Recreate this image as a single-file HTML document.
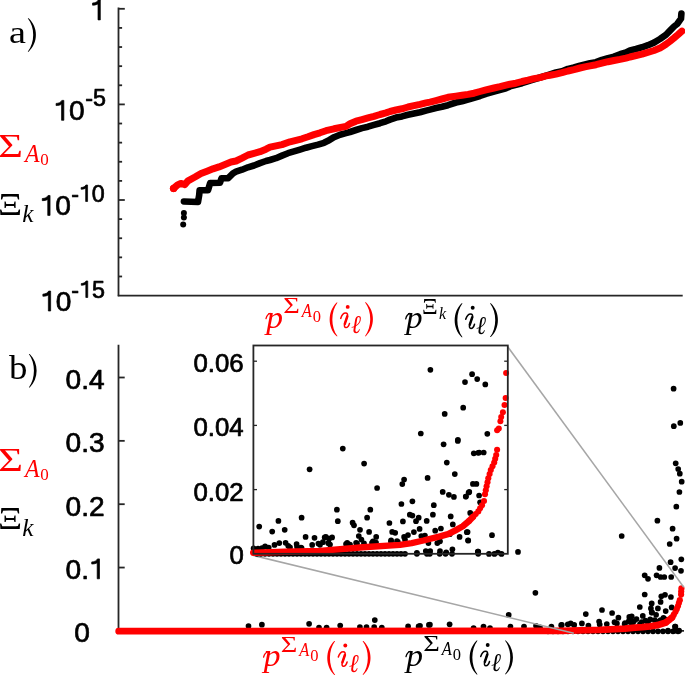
<!DOCTYPE html>
<html><head><meta charset="utf-8"><style>
html,body{margin:0;padding:0;background:#fff;width:685px;height:675px;overflow:hidden}
svg{display:block;will-change:transform}
</style></head><body>
<svg width="685" height="675" viewBox="0 0 685 675">
<rect width="685" height="675" fill="#fff"/>
<line x1="118.5" y1="7.6" x2="118.5" y2="296.3" stroke="#262626" stroke-width="1.8"/>
<line x1="117.8" y1="295.6" x2="682.7" y2="295.6" stroke="#262626" stroke-width="1.8"/>
<line x1="118.5" y1="8.80" x2="124.8" y2="8.80" stroke="#262626" stroke-width="1.8"/>
<line x1="118.5" y1="27.92" x2="122.1" y2="27.92" stroke="#262626" stroke-width="1.8"/>
<line x1="118.5" y1="47.04" x2="122.1" y2="47.04" stroke="#262626" stroke-width="1.8"/>
<line x1="118.5" y1="66.16" x2="122.1" y2="66.16" stroke="#262626" stroke-width="1.8"/>
<line x1="118.5" y1="85.28" x2="122.1" y2="85.28" stroke="#262626" stroke-width="1.8"/>
<line x1="118.5" y1="104.40" x2="124.8" y2="104.40" stroke="#262626" stroke-width="1.8"/>
<line x1="118.5" y1="123.52" x2="122.1" y2="123.52" stroke="#262626" stroke-width="1.8"/>
<line x1="118.5" y1="142.64" x2="122.1" y2="142.64" stroke="#262626" stroke-width="1.8"/>
<line x1="118.5" y1="161.76" x2="122.1" y2="161.76" stroke="#262626" stroke-width="1.8"/>
<line x1="118.5" y1="180.88" x2="122.1" y2="180.88" stroke="#262626" stroke-width="1.8"/>
<line x1="118.5" y1="200.00" x2="124.8" y2="200.00" stroke="#262626" stroke-width="1.8"/>
<line x1="118.5" y1="219.12" x2="122.1" y2="219.12" stroke="#262626" stroke-width="1.8"/>
<line x1="118.5" y1="238.24" x2="122.1" y2="238.24" stroke="#262626" stroke-width="1.8"/>
<line x1="118.5" y1="257.36" x2="122.1" y2="257.36" stroke="#262626" stroke-width="1.8"/>
<line x1="118.5" y1="276.48" x2="122.1" y2="276.48" stroke="#262626" stroke-width="1.8"/>
<line x1="118.5" y1="344.8" x2="118.5" y2="631.6" stroke="#262626" stroke-width="1.8"/>
<line x1="117.8" y1="630.9" x2="684" y2="630.9" stroke="#262626" stroke-width="1.8"/>
<line x1="118.5" y1="567.55" x2="124.7" y2="567.55" stroke="#262626" stroke-width="1.8"/>
<line x1="118.5" y1="504.20" x2="124.7" y2="504.20" stroke="#262626" stroke-width="1.8"/>
<line x1="118.5" y1="440.85" x2="124.7" y2="440.85" stroke="#262626" stroke-width="1.8"/>
<line x1="118.5" y1="377.50" x2="124.7" y2="377.50" stroke="#262626" stroke-width="1.8"/>
<circle cx="548.0" cy="631.3" r="2.85" fill="#000"/><circle cx="553.0" cy="631.3" r="2.85" fill="#000"/><circle cx="558.0" cy="631.3" r="2.85" fill="#000"/><circle cx="563.0" cy="631.3" r="2.85" fill="#000"/><circle cx="568.0" cy="631.3" r="2.85" fill="#000"/><circle cx="573.0" cy="631.3" r="2.85" fill="#000"/><circle cx="578.0" cy="631.3" r="2.85" fill="#000"/><circle cx="583.0" cy="631.3" r="2.85" fill="#000"/><circle cx="588.0" cy="631.3" r="2.85" fill="#000"/><circle cx="593.0" cy="631.3" r="2.85" fill="#000"/><circle cx="598.0" cy="631.3" r="2.85" fill="#000"/><circle cx="603.0" cy="631.3" r="2.85" fill="#000"/><circle cx="608.0" cy="631.3" r="2.85" fill="#000"/><circle cx="613.0" cy="631.3" r="2.85" fill="#000"/><circle cx="618.0" cy="631.3" r="2.85" fill="#000"/><circle cx="623.0" cy="631.3" r="2.85" fill="#000"/><circle cx="628.0" cy="631.3" r="2.85" fill="#000"/><circle cx="633.0" cy="631.3" r="2.85" fill="#000"/><circle cx="638.0" cy="631.3" r="2.85" fill="#000"/><circle cx="643.0" cy="631.3" r="2.85" fill="#000"/><circle cx="648.0" cy="631.3" r="2.85" fill="#000"/><circle cx="653.0" cy="631.3" r="2.85" fill="#000"/><circle cx="658.0" cy="631.3" r="2.85" fill="#000"/><circle cx="663.0" cy="631.3" r="2.85" fill="#000"/><circle cx="668.0" cy="631.3" r="2.85" fill="#000"/><circle cx="673.0" cy="631.3" r="2.85" fill="#000"/><circle cx="678.0" cy="631.3" r="2.85" fill="#000"/>
<circle cx="673.6" cy="388.7" r="2.85" fill="#000"/><circle cx="673.8" cy="426.2" r="2.85" fill="#000"/><circle cx="680.3" cy="422.9" r="2.85" fill="#000"/><circle cx="675.7" cy="463.3" r="2.85" fill="#000"/><circle cx="678.2" cy="469.0" r="2.85" fill="#000"/><circle cx="679.8" cy="473.7" r="2.85" fill="#000"/><circle cx="681.7" cy="481.7" r="2.85" fill="#000"/><circle cx="679.4" cy="492.0" r="2.85" fill="#000"/><circle cx="676.3" cy="506.7" r="2.85" fill="#000"/><circle cx="657.4" cy="520.7" r="2.85" fill="#000"/><circle cx="672.6" cy="528.7" r="2.85" fill="#000"/><circle cx="676.6" cy="538.7" r="2.85" fill="#000"/><circle cx="669.7" cy="544.0" r="2.85" fill="#000"/><circle cx="621.7" cy="536.0" r="2.85" fill="#000"/><circle cx="518.0" cy="551.9" r="2.85" fill="#000"/><circle cx="535.4" cy="592.8" r="2.85" fill="#000"/><circle cx="681.3" cy="559.3" r="2.85" fill="#000"/><circle cx="670.6" cy="562.2" r="2.85" fill="#000"/><circle cx="659.4" cy="567.9" r="2.85" fill="#000"/><circle cx="675.1" cy="568.1" r="2.85" fill="#000"/><circle cx="681.0" cy="570.8" r="2.85" fill="#000"/><circle cx="644.7" cy="575.3" r="2.85" fill="#000"/><circle cx="648.0" cy="578.8" r="2.85" fill="#000"/><circle cx="656.6" cy="575.3" r="2.85" fill="#000"/><circle cx="660.6" cy="577.0" r="2.85" fill="#000"/><circle cx="664.3" cy="577.0" r="2.85" fill="#000"/><circle cx="671.2" cy="577.0" r="2.85" fill="#000"/><circle cx="644.7" cy="594.5" r="2.85" fill="#000"/><circle cx="661.3" cy="596.3" r="2.85" fill="#000"/><circle cx="665.0" cy="594.8" r="2.85" fill="#000"/><circle cx="670.9" cy="597.0" r="2.85" fill="#000"/><circle cx="660.6" cy="601.9" r="2.85" fill="#000"/><circle cx="651.7" cy="603.4" r="2.85" fill="#000"/><circle cx="639.8" cy="607.0" r="2.85" fill="#000"/><circle cx="657.9" cy="608.4" r="2.85" fill="#000"/><circle cx="650.9" cy="608.4" r="2.85" fill="#000"/><circle cx="671.7" cy="607.4" r="2.85" fill="#000"/><circle cx="665.7" cy="611.1" r="2.85" fill="#000"/><circle cx="651.7" cy="612.6" r="2.85" fill="#000"/><circle cx="656.1" cy="614.8" r="2.85" fill="#000"/><circle cx="642.8" cy="615.9" r="2.85" fill="#000"/><circle cx="631.7" cy="616.3" r="2.85" fill="#000"/><circle cx="629.4" cy="620.0" r="2.85" fill="#000"/><circle cx="633.9" cy="621.2" r="2.85" fill="#000"/><circle cx="650.2" cy="619.3" r="2.85" fill="#000"/><circle cx="654.6" cy="620.0" r="2.85" fill="#000"/><circle cx="663.5" cy="617.8" r="2.85" fill="#000"/><circle cx="660.6" cy="620.0" r="2.85" fill="#000"/><circle cx="625.0" cy="623.0" r="2.85" fill="#000"/><circle cx="675.4" cy="626.7" r="2.85" fill="#000"/><circle cx="668.0" cy="630.7" r="2.85" fill="#000"/><circle cx="674.6" cy="630.7" r="2.85" fill="#000"/><circle cx="679.1" cy="630.7" r="2.85" fill="#000"/><circle cx="585.8" cy="614.1" r="2.85" fill="#000"/><circle cx="602.0" cy="610.0" r="2.85" fill="#000"/><circle cx="612.1" cy="613.0" r="2.85" fill="#000"/><circle cx="618.4" cy="617.7" r="2.85" fill="#000"/><circle cx="629.3" cy="616.9" r="2.85" fill="#000"/><circle cx="561.8" cy="624.9" r="2.85" fill="#000"/><circle cx="570.7" cy="623.4" r="2.85" fill="#000"/><circle cx="574.2" cy="624.9" r="2.85" fill="#000"/><circle cx="581.9" cy="623.4" r="2.85" fill="#000"/><circle cx="588.4" cy="625.7" r="2.85" fill="#000"/><circle cx="599.1" cy="621.6" r="2.85" fill="#000"/><circle cx="599.7" cy="624.6" r="2.85" fill="#000"/><circle cx="606.8" cy="624.0" r="2.85" fill="#000"/><circle cx="614.5" cy="622.2" r="2.85" fill="#000"/><circle cx="616.9" cy="623.4" r="2.85" fill="#000"/><circle cx="624.6" cy="624.0" r="2.85" fill="#000"/><circle cx="628.7" cy="621.6" r="2.85" fill="#000"/><circle cx="420.0" cy="625.8" r="2.85" fill="#000"/><circle cx="429.9" cy="624.7" r="2.85" fill="#000"/><circle cx="449.6" cy="624.3" r="2.85" fill="#000"/><circle cx="473.6" cy="628.0" r="2.85" fill="#000"/><circle cx="483.5" cy="626.5" r="2.85" fill="#000"/><circle cx="490.0" cy="628.0" r="2.85" fill="#000"/><circle cx="508.7" cy="614.9" r="2.85" fill="#000"/><circle cx="510.4" cy="626.5" r="2.85" fill="#000"/><circle cx="524.0" cy="626.5" r="2.85" fill="#000"/><circle cx="536.0" cy="625.8" r="2.85" fill="#000"/><circle cx="540.0" cy="627.4" r="2.85" fill="#000"/><circle cx="551.4" cy="626.5" r="2.85" fill="#000"/><circle cx="561.2" cy="625.2" r="2.85" fill="#000"/><circle cx="567.8" cy="624.3" r="2.85" fill="#000"/><circle cx="309.1" cy="623.8" r="2.85" fill="#000"/><circle cx="319.0" cy="627.7" r="2.85" fill="#000"/><circle cx="326.6" cy="627.7" r="2.85" fill="#000"/><circle cx="340.2" cy="625.5" r="2.85" fill="#000"/><circle cx="359.9" cy="627.1" r="2.85" fill="#000"/><circle cx="366.5" cy="627.1" r="2.85" fill="#000"/><circle cx="374.8" cy="620.1" r="2.85" fill="#000"/><circle cx="374.2" cy="627.1" r="2.85" fill="#000"/><circle cx="381.8" cy="627.7" r="2.85" fill="#000"/><circle cx="408.1" cy="626.4" r="2.85" fill="#000"/><circle cx="418.6" cy="626.4" r="2.85" fill="#000"/><circle cx="428.9" cy="624.9" r="2.85" fill="#000"/><circle cx="248.5" cy="626.0" r="2.85" fill="#000"/><circle cx="261.9" cy="624.7" r="2.85" fill="#000"/>
<circle cx="636.5" cy="619.1" r="2.85" fill="#000"/><circle cx="645.4" cy="620.6" r="2.85" fill="#000"/><circle cx="641.7" cy="622.2" r="2.85" fill="#000"/><circle cx="648.0" cy="622.5" r="2.85" fill="#000"/><circle cx="658.0" cy="621.5" r="2.85" fill="#000"/><circle cx="666.0" cy="619.5" r="2.85" fill="#000"/><circle cx="640.0" cy="624.0" r="2.85" fill="#000"/><circle cx="632.0" cy="624.5" r="2.85" fill="#000"/><circle cx="652.0" cy="612.4" r="2.85" fill="#000"/><circle cx="675.0" cy="626.5" r="2.85" fill="#000"/>
<polyline points="118.7,631.2 560.0,630.8 600.0,629.9 625.0,628.6 635.0,627.7 642.4,627.2 649.8,626.3 657.2,625.2 666.0,622.4 672.0,617.6" fill="none" stroke="#ff0000" stroke-width="6.8" stroke-linecap="round" stroke-linejoin="round"/>
<circle cx="666.0" cy="622.4" r="3.1" fill="#ff0000"/><circle cx="669.0" cy="620.0" r="3.1" fill="#ff0000"/><circle cx="672.0" cy="617.6" r="3.1" fill="#ff0000"/><circle cx="673.8" cy="614.7" r="3.1" fill="#ff0000"/><circle cx="675.5" cy="611.8" r="3.1" fill="#ff0000"/><circle cx="676.8" cy="608.9" r="3.1" fill="#ff0000"/><circle cx="678.0" cy="606.0" r="3.1" fill="#ff0000"/><circle cx="678.9" cy="603.1" r="3.1" fill="#ff0000"/><circle cx="679.8" cy="600.2" r="3.1" fill="#ff0000"/><circle cx="681.1" cy="594.6" r="3.1" fill="#ff0000"/><circle cx="681.2" cy="591.5" r="3.1" fill="#ff0000"/><circle cx="681.4" cy="588.4" r="3.1" fill="#ff0000"/>
<line x1="253.4" y1="555.5" x2="573.8" y2="633.2" stroke="#a6a6a6" stroke-width="1.5"/>
<line x1="506.8" y1="345.5" x2="683.8" y2="587.2" stroke="#a6a6a6" stroke-width="1.5"/>
<rect x="253.4" y="345.5" width="254.4" height="208.29999999999995" fill="#fff"/>
<circle cx="257.0" cy="553.8" r="2.85" fill="#000"/><circle cx="261.0" cy="553.8" r="2.85" fill="#000"/><circle cx="265.0" cy="553.8" r="2.85" fill="#000"/><circle cx="269.0" cy="553.8" r="2.85" fill="#000"/><circle cx="273.0" cy="553.8" r="2.85" fill="#000"/><circle cx="277.0" cy="553.8" r="2.85" fill="#000"/><circle cx="281.0" cy="553.8" r="2.85" fill="#000"/><circle cx="285.0" cy="553.8" r="2.85" fill="#000"/><circle cx="289.0" cy="553.8" r="2.85" fill="#000"/><circle cx="293.0" cy="553.8" r="2.85" fill="#000"/><circle cx="297.0" cy="553.8" r="2.85" fill="#000"/><circle cx="301.0" cy="553.8" r="2.85" fill="#000"/><circle cx="305.0" cy="553.8" r="2.85" fill="#000"/><circle cx="309.0" cy="553.8" r="2.85" fill="#000"/><circle cx="313.0" cy="553.8" r="2.85" fill="#000"/><circle cx="317.0" cy="553.8" r="2.85" fill="#000"/><circle cx="321.0" cy="553.8" r="2.85" fill="#000"/><circle cx="325.0" cy="553.8" r="2.85" fill="#000"/><circle cx="329.0" cy="553.8" r="2.85" fill="#000"/><circle cx="333.0" cy="553.8" r="2.85" fill="#000"/><circle cx="337.0" cy="553.8" r="2.85" fill="#000"/><circle cx="341.0" cy="553.8" r="2.85" fill="#000"/><circle cx="345.0" cy="553.8" r="2.85" fill="#000"/><circle cx="349.0" cy="553.8" r="2.85" fill="#000"/><circle cx="353.0" cy="553.8" r="2.85" fill="#000"/><circle cx="357.0" cy="553.8" r="2.85" fill="#000"/><circle cx="361.0" cy="553.8" r="2.85" fill="#000"/><circle cx="365.0" cy="553.8" r="2.85" fill="#000"/><circle cx="369.0" cy="553.8" r="2.85" fill="#000"/><circle cx="373.0" cy="553.8" r="2.85" fill="#000"/><circle cx="377.0" cy="553.8" r="2.85" fill="#000"/><circle cx="381.0" cy="553.8" r="2.85" fill="#000"/><circle cx="385.0" cy="553.8" r="2.85" fill="#000"/><circle cx="389.0" cy="553.8" r="2.85" fill="#000"/><circle cx="393.0" cy="553.8" r="2.85" fill="#000"/><circle cx="397.0" cy="553.8" r="2.85" fill="#000"/><circle cx="401.0" cy="553.8" r="2.85" fill="#000"/><circle cx="405.0" cy="553.8" r="2.85" fill="#000"/><circle cx="416.9" cy="553.8" r="2.85" fill="#000"/><circle cx="426.9" cy="553.8" r="2.85" fill="#000"/><circle cx="429.8" cy="553.8" r="2.85" fill="#000"/><circle cx="439.7" cy="553.8" r="2.85" fill="#000"/><circle cx="445.5" cy="553.8" r="2.85" fill="#000"/><circle cx="452.0" cy="553.8" r="2.85" fill="#000"/><circle cx="478.2" cy="553.8" r="2.85" fill="#000"/>
<circle cx="430.4" cy="369.8" r="2.85" fill="#000"/><circle cx="444.7" cy="413.9" r="2.85" fill="#000"/><circle cx="420.8" cy="433.5" r="2.85" fill="#000"/><circle cx="443.6" cy="444.3" r="2.85" fill="#000"/><circle cx="342.8" cy="448.6" r="2.85" fill="#000"/><circle cx="472.1" cy="374.2" r="2.85" fill="#000"/><circle cx="477.2" cy="379.1" r="2.85" fill="#000"/><circle cx="465.0" cy="382.1" r="2.85" fill="#000"/><circle cx="485.3" cy="384.4" r="2.85" fill="#000"/><circle cx="463.2" cy="407.7" r="2.85" fill="#000"/><circle cx="487.3" cy="433.8" r="2.85" fill="#000"/><circle cx="457.9" cy="439.8" r="2.85" fill="#000"/><circle cx="309.6" cy="469.3" r="2.85" fill="#000"/><circle cx="259.2" cy="526.6" r="2.85" fill="#000"/><circle cx="278.4" cy="520.9" r="2.85" fill="#000"/><circle cx="272.2" cy="531.6" r="2.85" fill="#000"/><circle cx="284.7" cy="529.8" r="2.85" fill="#000"/><circle cx="301.6" cy="517.7" r="2.85" fill="#000"/><circle cx="305.6" cy="536.9" r="2.85" fill="#000"/><circle cx="314.5" cy="537.8" r="2.85" fill="#000"/><circle cx="324.7" cy="537.4" r="2.85" fill="#000"/><circle cx="329.1" cy="538.7" r="2.85" fill="#000"/><circle cx="253.6" cy="548.4" r="2.85" fill="#000"/><circle cx="265.1" cy="546.3" r="2.85" fill="#000"/><circle cx="268.7" cy="547.6" r="2.85" fill="#000"/><circle cx="274.5" cy="544.9" r="2.85" fill="#000"/><circle cx="279.3" cy="543.1" r="2.85" fill="#000"/><circle cx="285.6" cy="542.8" r="2.85" fill="#000"/><circle cx="288.2" cy="545.8" r="2.85" fill="#000"/><circle cx="296.6" cy="544.0" r="2.85" fill="#000"/><circle cx="301.6" cy="548.1" r="2.85" fill="#000"/><circle cx="312.2" cy="544.9" r="2.85" fill="#000"/><circle cx="318.4" cy="543.5" r="2.85" fill="#000"/><circle cx="322.9" cy="542.2" r="2.85" fill="#000"/><circle cx="328.2" cy="543.1" r="2.85" fill="#000"/><circle cx="364.1" cy="463.6" r="2.85" fill="#000"/><circle cx="377.1" cy="488.0" r="2.85" fill="#000"/><circle cx="402.3" cy="484.1" r="2.85" fill="#000"/><circle cx="404.1" cy="479.5" r="2.85" fill="#000"/><circle cx="401.4" cy="504.0" r="2.85" fill="#000"/><circle cx="336.9" cy="509.7" r="2.85" fill="#000"/><circle cx="370.3" cy="509.7" r="2.85" fill="#000"/><circle cx="337.8" cy="521.2" r="2.85" fill="#000"/><circle cx="367.1" cy="517.7" r="2.85" fill="#000"/><circle cx="352.6" cy="522.7" r="2.85" fill="#000"/><circle cx="354.0" cy="525.3" r="2.85" fill="#000"/><circle cx="389.4" cy="523.0" r="2.85" fill="#000"/><circle cx="402.9" cy="521.4" r="2.85" fill="#000"/><circle cx="360.0" cy="529.8" r="2.85" fill="#000"/><circle cx="369.1" cy="531.9" r="2.85" fill="#000"/><circle cx="392.2" cy="531.9" r="2.85" fill="#000"/><circle cx="395.2" cy="532.8" r="2.85" fill="#000"/><circle cx="325.9" cy="536.9" r="2.85" fill="#000"/><circle cx="332.1" cy="537.4" r="2.85" fill="#000"/><circle cx="358.8" cy="536.0" r="2.85" fill="#000"/><circle cx="361.4" cy="539.6" r="2.85" fill="#000"/><circle cx="376.2" cy="536.9" r="2.85" fill="#000"/><circle cx="373.0" cy="541.3" r="2.85" fill="#000"/><circle cx="404.1" cy="536.9" r="2.85" fill="#000"/><circle cx="328.6" cy="543.1" r="2.85" fill="#000"/><circle cx="347.2" cy="542.8" r="2.85" fill="#000"/><circle cx="356.1" cy="542.8" r="2.85" fill="#000"/><circle cx="391.1" cy="540.4" r="2.85" fill="#000"/><circle cx="397.9" cy="542.2" r="2.85" fill="#000"/><circle cx="457.8" cy="440.9" r="2.85" fill="#000"/><circle cx="473.8" cy="453.3" r="2.85" fill="#000"/><circle cx="478.2" cy="452.8" r="2.85" fill="#000"/><circle cx="446.8" cy="462.6" r="2.85" fill="#000"/><circle cx="454.8" cy="474.1" r="2.85" fill="#000"/><circle cx="427.6" cy="477.9" r="2.85" fill="#000"/><circle cx="472.9" cy="483.9" r="2.85" fill="#000"/><circle cx="476.4" cy="483.9" r="2.85" fill="#000"/><circle cx="442.7" cy="491.9" r="2.85" fill="#000"/><circle cx="448.9" cy="494.8" r="2.85" fill="#000"/><circle cx="453.9" cy="496.9" r="2.85" fill="#000"/><circle cx="469.3" cy="491.9" r="2.85" fill="#000"/><circle cx="465.8" cy="496.5" r="2.85" fill="#000"/><circle cx="479.1" cy="495.5" r="2.85" fill="#000"/><circle cx="412.4" cy="501.3" r="2.85" fill="#000"/><circle cx="433.8" cy="505.2" r="2.85" fill="#000"/><circle cx="409.8" cy="514.7" r="2.85" fill="#000"/><circle cx="412.4" cy="515.6" r="2.85" fill="#000"/><circle cx="432.9" cy="514.7" r="2.85" fill="#000"/><circle cx="418.7" cy="517.7" r="2.85" fill="#000"/><circle cx="416.0" cy="521.2" r="2.85" fill="#000"/><circle cx="426.7" cy="520.9" r="2.85" fill="#000"/><circle cx="450.7" cy="516.4" r="2.85" fill="#000"/><circle cx="470.2" cy="512.9" r="2.85" fill="#000"/><circle cx="452.8" cy="524.4" r="2.85" fill="#000"/><circle cx="419.6" cy="528.9" r="2.85" fill="#000"/><circle cx="435.2" cy="530.7" r="2.85" fill="#000"/><circle cx="440.9" cy="528.5" r="2.85" fill="#000"/><circle cx="413.9" cy="532.1" r="2.85" fill="#000"/><circle cx="408.0" cy="535.1" r="2.85" fill="#000"/><circle cx="421.3" cy="536.0" r="2.85" fill="#000"/><circle cx="424.9" cy="535.5" r="2.85" fill="#000"/><circle cx="449.8" cy="534.2" r="2.85" fill="#000"/><circle cx="459.6" cy="536.9" r="2.85" fill="#000"/><circle cx="467.6" cy="532.1" r="2.85" fill="#000"/><circle cx="468.1" cy="540.4" r="2.85" fill="#000"/><circle cx="437.3" cy="543.1" r="2.85" fill="#000"/><circle cx="440.0" cy="541.3" r="2.85" fill="#000"/><circle cx="428.4" cy="543.1" r="2.85" fill="#000"/><circle cx="416.9" cy="552.9" r="2.85" fill="#000"/><circle cx="425.8" cy="551.1" r="2.85" fill="#000"/><circle cx="430.2" cy="551.1" r="2.85" fill="#000"/><circle cx="440.0" cy="551.1" r="2.85" fill="#000"/><circle cx="446.2" cy="552.4" r="2.85" fill="#000"/><circle cx="452.4" cy="549.3" r="2.85" fill="#000"/><circle cx="478.2" cy="551.6" r="2.85" fill="#000"/><circle cx="479.2" cy="452.5" r="2.85" fill="#000"/><circle cx="483.7" cy="452.5" r="2.85" fill="#000"/><circle cx="468.6" cy="492.5" r="2.85" fill="#000"/><circle cx="465.9" cy="496.6" r="2.85" fill="#000"/><circle cx="480.1" cy="502.3" r="2.85" fill="#000"/><circle cx="466.8" cy="532.2" r="2.85" fill="#000"/><circle cx="468.2" cy="540.5" r="2.85" fill="#000"/><circle cx="492.0" cy="535.2" r="2.85" fill="#000"/><circle cx="477.8" cy="551.7" r="2.85" fill="#000"/><circle cx="489.0" cy="553.9" r="2.85" fill="#000"/><circle cx="494.4" cy="553.9" r="2.85" fill="#000"/><circle cx="497.9" cy="552.5" r="2.85" fill="#000"/><circle cx="501.5" cy="553.9" r="2.85" fill="#000"/>
<circle cx="320.0" cy="544.8" r="2.85" fill="#000"/><circle cx="330.0" cy="544.6" r="2.85" fill="#000"/><circle cx="346.0" cy="544.0" r="2.85" fill="#000"/><circle cx="350.0" cy="544.6" r="2.85" fill="#000"/><circle cx="357.0" cy="543.6" r="2.85" fill="#000"/><circle cx="364.0" cy="543.4" r="2.85" fill="#000"/><circle cx="372.0" cy="542.8" r="2.85" fill="#000"/><circle cx="376.0" cy="542.6" r="2.85" fill="#000"/><circle cx="391.0" cy="541.4" r="2.85" fill="#000"/><circle cx="397.0" cy="541.2" r="2.85" fill="#000"/><circle cx="405.0" cy="539.8" r="2.85" fill="#000"/><circle cx="258.0" cy="548.6" r="2.85" fill="#000"/><circle cx="262.0" cy="548.2" r="2.85" fill="#000"/><circle cx="290.0" cy="547.4" r="2.85" fill="#000"/><circle cx="301.0" cy="547.6" r="2.85" fill="#000"/><circle cx="297.0" cy="546.8" r="2.85" fill="#000"/>
<polyline points="253.2,552.7 285.0,551.8 320.0,550.9 363.0,547.3 400.0,544.9 411.7,543.1 423.4,540.5 440.0,536.4 448.0,534.2 455.0,530.6 462.8,526.2 469.0,521.0 473.1,516.8" fill="none" stroke="#ff0000" stroke-width="6.4" stroke-linecap="round" stroke-linejoin="round"/>
<circle cx="469.0" cy="521.0" r="3.05" fill="#ff0000"/><circle cx="473.1" cy="516.8" r="3.05" fill="#ff0000"/><circle cx="475.7" cy="514.1" r="3.05" fill="#ff0000"/><circle cx="478.3" cy="511.4" r="3.05" fill="#ff0000"/><circle cx="480.1" cy="508.3" r="3.05" fill="#ff0000"/><circle cx="482.0" cy="505.2" r="3.05" fill="#ff0000"/><circle cx="484.0" cy="501.0" r="3.05" fill="#ff0000"/><circle cx="485.0" cy="494.3" r="3.05" fill="#ff0000"/><circle cx="485.8" cy="490.3" r="3.05" fill="#ff0000"/><circle cx="486.6" cy="486.3" r="3.05" fill="#ff0000"/><circle cx="487.5" cy="482.2" r="3.05" fill="#ff0000"/><circle cx="488.3" cy="478.2" r="3.05" fill="#ff0000"/><circle cx="489.6" cy="474.1" r="3.05" fill="#ff0000"/><circle cx="490.8" cy="470.0" r="3.05" fill="#ff0000"/><circle cx="492.5" cy="466.2" r="3.05" fill="#ff0000"/><circle cx="494.2" cy="462.5" r="3.05" fill="#ff0000"/><circle cx="495.2" cy="458.8" r="3.05" fill="#ff0000"/><circle cx="496.2" cy="455.0" r="3.05" fill="#ff0000"/><circle cx="497.1" cy="449.8" r="3.05" fill="#ff0000"/>
<circle cx="497.1" cy="430.2" r="3.0" fill="#ff0000"/><circle cx="498.8" cy="428.6" r="3.0" fill="#ff0000"/><circle cx="500.4" cy="421.2" r="3.0" fill="#ff0000"/><circle cx="501.2" cy="417.1" r="3.0" fill="#ff0000"/><circle cx="502.9" cy="412.2" r="3.0" fill="#ff0000"/><circle cx="504.5" cy="404.9" r="3.0" fill="#ff0000"/><circle cx="505.6" cy="397.9" r="3.0" fill="#ff0000"/><circle cx="506.1" cy="373.1" r="3.0" fill="#ff0000"/>
<rect x="253.4" y="345.5" width="254.4" height="208.29999999999995" fill="none" stroke="#262626" stroke-width="1.8"/>
<line x1="253.4" y1="489.60" x2="257.0" y2="489.60" stroke="#262626" stroke-width="1.3"/>
<line x1="507.8" y1="489.60" x2="504.2" y2="489.60" stroke="#262626" stroke-width="1.3"/>
<line x1="253.4" y1="425.40" x2="257.0" y2="425.40" stroke="#262626" stroke-width="1.3"/>
<line x1="507.8" y1="425.40" x2="504.2" y2="425.40" stroke="#262626" stroke-width="1.3"/>
<line x1="253.4" y1="361.20" x2="257.0" y2="361.20" stroke="#262626" stroke-width="1.3"/>
<line x1="507.8" y1="361.20" x2="504.2" y2="361.20" stroke="#262626" stroke-width="1.3"/>
<polyline points="183.9,201.5 198.0,202.0 199.2,195.0 199.6,190.2 208.0,190.3 210.2,183.0 220.0,182.7 221.5,178.3 228.2,178.1 233.0,173.4 236.0,171.7 242.0,169.7 248.0,167.3 254.0,165.5 260.0,163.1 266.0,161.0 270.0,160.0 276.0,158.2 282.0,155.6 288.0,153.2 294.0,151.4 300.0,149.6 306.0,147.7 312.0,146.1 318.0,144.6 324.0,142.8 328.0,140.8 334.0,137.2 340.0,134.7 346.0,133.1 350.0,132.0 356.0,130.0 362.0,128.1 368.0,126.7 374.0,124.9 380.0,123.2 386.0,121.3 390.0,119.6 396.0,117.6 402.0,116.4 408.0,114.8 414.0,113.5 420.0,112.3 426.0,110.6 430.0,109.6 436.0,108.0 442.0,106.8 448.0,105.2 456.0,102.5 462.0,101.2 468.0,99.6 474.0,97.8 480.0,96.0 486.0,93.8 494.0,91.5 506.0,88.2 510.0,86.4 522.0,83.2 530.0,80.5 540.0,77.5 547.0,75.3 556.0,72.5 562.0,71.3 568.0,68.9 574.0,67.5 580.0,65.7 586.0,64.2 590.0,63.2 596.0,62.2 602.0,59.9 608.0,58.1 614.0,56.6 620.0,54.2 626.0,52.5 630.0,50.5 636.0,49.0 642.0,47.3 648.0,45.2 654.0,42.6 660.0,39.0 666.0,34.8 670.0,30.6 674.0,26.5 677.2,24.0 681.0,18.7 681.4,13.5" fill="none" stroke="#000" stroke-width="6.6" stroke-linecap="round" stroke-linejoin="round"/>
<circle cx="183.9" cy="212.9" r="3.0" fill="#000"/><circle cx="183.9" cy="217.6" r="3.0" fill="#000"/><circle cx="183.2" cy="224.5" r="3.0" fill="#000"/>
<polyline points="173.5,188.5 177.6,184.9 180.8,183.4 184.9,184.6 188.0,180.8 195.0,177.0 201.0,173.5 207.0,171.2 213.0,168.8 219.0,166.9 225.0,164.5 231.0,162.0 236.0,161.0 242.0,158.1 248.0,155.0 254.0,153.4 260.0,151.7 266.0,149.2 270.0,147.2 282.0,144.6 290.0,141.8 296.0,140.3 302.0,138.8 308.0,136.8 314.0,134.6 320.0,132.8 326.0,130.7 334.0,128.8 346.0,126.4 350.0,123.8 356.0,121.2 362.0,119.6 368.0,117.9 374.0,116.3 380.0,114.5 386.0,112.9 390.0,111.5 396.0,110.0 402.0,108.8 408.0,107.0 414.0,105.7 420.0,104.4 426.0,102.9 430.0,102.1 436.0,100.6 442.0,99.0 448.0,97.3 456.0,96.1 462.0,95.3 468.0,94.4 474.0,93.2 480.0,91.5 486.0,89.9 494.0,88.0 500.0,86.7 506.0,85.2 510.0,84.2 516.0,83.2 522.0,81.5 528.0,80.2 534.0,78.6 540.0,77.6 546.0,75.9 550.0,75.2 556.0,74.1 562.0,72.7 568.0,71.0 574.0,69.6 580.0,68.0 586.0,66.7 590.0,65.9 596.0,64.7 602.0,63.2 608.0,61.7 614.0,60.5 620.0,59.4 626.0,58.1 630.0,57.0 642.0,54.1 654.0,50.5 660.0,48.1 666.0,44.2 670.0,41.2 674.0,38.0 678.0,34.6 681.9,31.1" fill="none" stroke="#ff0000" stroke-width="7.0" stroke-linecap="round" stroke-linejoin="round"/>
<circle cx="173.6" cy="188.4" r="3.7" fill="#ff0000"/>
<path d="M0.372 0 L0.372 -0.709 L0.300 -0.709 C0.270 -0.640 0.190 -0.604 0.095 -0.600 L0.095 -0.525 C0.170 -0.525 0.245 -0.540 0.290 -0.570 L0.290 0 Z" transform="translate(89.86,19.90) scale(28.1)" fill="#000" stroke="#000" stroke-width="0.0249" stroke-linejoin="round"/>
<path d="M0.372 0 L0.372 -0.709 L0.300 -0.709 C0.270 -0.640 0.190 -0.604 0.095 -0.600 L0.095 -0.525 C0.170 -0.525 0.245 -0.540 0.290 -0.570 L0.290 0 Z" transform="translate(53.40,120.30) scale(28.1)" fill="#000" stroke="#000" stroke-width="0.0249" stroke-linejoin="round"/><text x="69.02" y="120.30" font-family="'Liberation Sans', sans-serif" font-size="28.1" fill="#000" stroke="#000" stroke-width="0.7" stroke-linejoin="round">0</text>
<text x="85.36" y="106.40" font-family="'Liberation Sans', sans-serif" font-size="23.3" fill="#000" stroke="#000" stroke-width="0.7" stroke-linejoin="round">-5</text>
<path d="M0.372 0 L0.372 -0.709 L0.300 -0.709 C0.270 -0.640 0.190 -0.604 0.095 -0.600 L0.095 -0.525 C0.170 -0.525 0.245 -0.540 0.290 -0.570 L0.290 0 Z" transform="translate(39.60,215.40) scale(28.1)" fill="#000" stroke="#000" stroke-width="0.0249" stroke-linejoin="round"/><text x="55.22" y="215.40" font-family="'Liberation Sans', sans-serif" font-size="28.1" fill="#000" stroke="#000" stroke-width="0.7" stroke-linejoin="round">0</text>
<text x="71.14" y="201.50" font-family="'Liberation Sans', sans-serif" font-size="23.3" fill="#000" stroke="#000" stroke-width="0.7" stroke-linejoin="round">-</text><path d="M0.372 0 L0.372 -0.709 L0.300 -0.709 C0.270 -0.640 0.190 -0.604 0.095 -0.600 L0.095 -0.525 C0.170 -0.525 0.245 -0.540 0.290 -0.570 L0.290 0 Z" transform="translate(78.90,201.50) scale(23.3)" fill="#000" stroke="#000" stroke-width="0.0300" stroke-linejoin="round"/><text x="91.85" y="201.50" font-family="'Liberation Sans', sans-serif" font-size="23.3" fill="#000" stroke="#000" stroke-width="0.7" stroke-linejoin="round">0</text>
<path d="M0.372 0 L0.372 -0.709 L0.300 -0.709 C0.270 -0.640 0.190 -0.604 0.095 -0.600 L0.095 -0.525 C0.170 -0.525 0.245 -0.540 0.290 -0.570 L0.290 0 Z" transform="translate(40.20,311.00) scale(28.1)" fill="#000" stroke="#000" stroke-width="0.0249" stroke-linejoin="round"/><text x="55.82" y="311.00" font-family="'Liberation Sans', sans-serif" font-size="28.1" fill="#000" stroke="#000" stroke-width="0.7" stroke-linejoin="round">0</text>
<text x="71.31" y="297.50" font-family="'Liberation Sans', sans-serif" font-size="23.3" fill="#000" stroke="#000" stroke-width="0.7" stroke-linejoin="round">-</text><path d="M0.372 0 L0.372 -0.709 L0.300 -0.709 C0.270 -0.640 0.190 -0.604 0.095 -0.600 L0.095 -0.525 C0.170 -0.525 0.245 -0.540 0.290 -0.570 L0.290 0 Z" transform="translate(79.07,297.50) scale(23.3)" fill="#000" stroke="#000" stroke-width="0.0300" stroke-linejoin="round"/><text x="92.02" y="297.50" font-family="'Liberation Sans', sans-serif" font-size="23.3" fill="#000" stroke="#000" stroke-width="0.7" stroke-linejoin="round">5</text>
<text x="65.60" y="388.90" font-family="'Liberation Sans', sans-serif" font-size="28.1" fill="#000" stroke="#000" stroke-width="0.7" stroke-linejoin="round">0.4</text>
<text x="65.60" y="452.20" font-family="'Liberation Sans', sans-serif" font-size="28.1" fill="#000" stroke="#000" stroke-width="0.7" stroke-linejoin="round">0.3</text>
<text x="65.60" y="515.50" font-family="'Liberation Sans', sans-serif" font-size="28.1" fill="#000" stroke="#000" stroke-width="0.7" stroke-linejoin="round">0.2</text>
<text x="65.60" y="578.80" font-family="'Liberation Sans', sans-serif" font-size="28.1" fill="#000" stroke="#000" stroke-width="0.7" stroke-linejoin="round">0.</text><path d="M0.372 0 L0.372 -0.709 L0.300 -0.709 C0.270 -0.640 0.190 -0.604 0.095 -0.600 L0.095 -0.525 C0.170 -0.525 0.245 -0.540 0.290 -0.570 L0.290 0 Z" transform="translate(89.04,578.80) scale(28.1)" fill="#000" stroke="#000" stroke-width="0.0249" stroke-linejoin="round"/>
<text x="74.20" y="642.20" font-family="'Liberation Sans', sans-serif" font-size="28.1" fill="#000" stroke="#000" stroke-width="0.7" stroke-linejoin="round">0</text>
<text x="193.50" y="372.10" font-family="'Liberation Sans', sans-serif" font-size="25.8" fill="#000" stroke="#000" stroke-width="0.7" stroke-linejoin="round">0.06</text>
<text x="193.50" y="436.30" font-family="'Liberation Sans', sans-serif" font-size="25.8" fill="#000" stroke="#000" stroke-width="0.7" stroke-linejoin="round">0.04</text>
<text x="193.50" y="500.50" font-family="'Liberation Sans', sans-serif" font-size="25.8" fill="#000" stroke="#000" stroke-width="0.7" stroke-linejoin="round">0.02</text>
<text x="229.60" y="564.40" font-family="'Liberation Sans', sans-serif" font-size="25.8" fill="#000" stroke="#000" stroke-width="0.7" stroke-linejoin="round">0</text>
<text transform="translate(9.06,43.19) scale(1.2126,1)" font-family="'Liberation Serif', serif" font-size="31.52" fill="#000">a</text>
<path d="M28.65,18.35 C38.38,27.34 38.38,42.66 28.65,51.65 L27.75,51.65 C35.08,42.66 35.08,27.34 27.75,18.35 Z" fill="#000"/>
<text transform="translate(8.90,379.08) scale(1.1114,1)" font-family="'Liberation Serif', serif" font-size="33.11" fill="#000">b</text>
<path d="M29.75,354.05 C38.95,363.09 38.95,378.50 29.75,387.55 L28.85,387.55 C35.65,378.50 35.65,363.09 28.85,354.05 Z" fill="#000"/>
<text transform="translate(-1.86,156.60) scale(1.2345,1)" font-family="'Liberation Serif', serif" font-size="34.36" fill="#ff0000">&#931;</text><text transform="translate(24.90,162.10) scale(0.9686,1)" font-family="'Liberation Serif', serif" font-size="24.54" font-style="italic" fill="#ff0000">A</text><text transform="translate(40.35,165.45) scale(1.0815,1)" font-family="'Liberation Serif', serif" font-size="15.71" fill="#ff0000">0</text><text transform="translate(-2.12,214.90) scale(1.1601,1)" font-family="'Liberation Serif', serif" font-size="32.38" fill="#000">&#926;</text><text transform="translate(22.17,221.50) scale(0.9778,1)" font-family="'Liberation Serif', serif" font-size="25.94" font-style="italic" fill="#000">k</text>
<text transform="translate(-1.86,471.10) scale(1.2345,1)" font-family="'Liberation Serif', serif" font-size="34.36" fill="#ff0000">&#931;</text><text transform="translate(24.90,476.60) scale(0.9686,1)" font-family="'Liberation Serif', serif" font-size="24.54" font-style="italic" fill="#ff0000">A</text><text transform="translate(40.35,479.95) scale(1.0815,1)" font-family="'Liberation Serif', serif" font-size="15.71" fill="#ff0000">0</text><text transform="translate(-2.12,529.40) scale(1.1601,1)" font-family="'Liberation Serif', serif" font-size="32.38" fill="#000">&#926;</text><text transform="translate(22.17,536.00) scale(0.9778,1)" font-family="'Liberation Serif', serif" font-size="25.94" font-style="italic" fill="#000">k</text>
<text transform="translate(266.26,327.88) scale(1.0610,1)" font-family="'Liberation Serif', serif" font-size="31.58" font-style="italic" fill="#ff0000">p</text><path d="M266.00,318.60 C266.60,316.20 267.90,313.90 270.20,313.30" fill="none" stroke="#ff0000" stroke-width="1.3" stroke-linecap="round"/><text transform="translate(283.19,313.30) scale(1.2161,1)" font-family="'Liberation Serif', serif" font-size="23.37" fill="#ff0000">&#931;</text><text transform="translate(301.70,317.30) scale(0.8971,1)" font-family="'Liberation Serif', serif" font-size="18.33" font-style="italic" fill="#ff0000">A</text><text transform="translate(312.67,322.34) scale(0.9863,1)" font-family="'Liberation Serif', serif" font-size="16.75" fill="#ff0000">0</text><path d="M336.65,302.45 C327.32,311.60 327.32,327.20 336.65,336.35 L337.55,336.35 C330.62,327.20 330.62,311.60 337.55,302.45 Z" fill="#ff0000"/><path d="M340.70,318.40 C341.60,315.60 343.60,313.10 345.60,313.10 C347.30,313.10 347.90,314.40 347.40,316.20 L344.70,324.00 C344.10,326.00 344.50,327.60 346.00,327.60 C347.60,327.60 348.90,325.60 349.50,323.40" fill="none" stroke="#ff0000" stroke-width="1.5" stroke-linecap="round"/><path d="M347.30,316.40 L344.80,323.80" fill="none" stroke="#ff0000" stroke-width="2.5" stroke-linecap="round"/><circle cx="347.70" cy="306.90" r="1.95" fill="#ff0000"/><text transform="translate(351.12,333.15) scale(0.9182,1)" font-family="'Liberation Serif', serif" font-size="25.62" font-style="italic" fill="#ff0000">&#8467;</text><path d="M365.85,302.35 C375.32,311.50 375.32,327.10 365.85,336.25 L364.95,336.25 C372.02,327.10 372.02,311.50 364.95,302.35 Z" fill="#ff0000"/>
<text transform="translate(405.94,328.35) scale(1.0300,1)" font-family="'Liberation Serif', serif" font-size="32.16" font-style="italic" fill="#000">p</text><path d="M405.70,318.80 C406.30,316.40 407.60,314.10 409.90,313.50" fill="none" stroke="#000" stroke-width="1.3" stroke-linecap="round"/><text transform="translate(422.09,314.00) scale(1.0757,1)" font-family="'Liberation Serif', serif" font-size="22.76" fill="#000">&#926;</text><text transform="translate(438.94,318.80) scale(0.9605,1)" font-family="'Liberation Serif', serif" font-size="16.72" font-style="italic" fill="#000">k</text><path d="M461.65,303.25 C452.32,312.40 452.32,328.00 461.65,337.15 L462.55,337.15 C455.62,328.00 455.62,312.40 462.55,303.25 Z" fill="#000"/><path d="M465.70,319.20 C466.60,316.40 468.60,313.90 470.60,313.90 C472.30,313.90 472.90,315.20 472.40,317.00 L469.70,324.80 C469.10,326.80 469.50,328.40 471.00,328.40 C472.60,328.40 473.90,326.40 474.50,324.20" fill="none" stroke="#000" stroke-width="1.5" stroke-linecap="round"/><path d="M472.30,317.20 L469.80,324.60" fill="none" stroke="#000" stroke-width="2.5" stroke-linecap="round"/><circle cx="472.70" cy="307.70" r="1.95" fill="#000"/><text transform="translate(476.12,333.95) scale(0.9182,1)" font-family="'Liberation Serif', serif" font-size="25.62" font-style="italic" fill="#000">&#8467;</text><path d="M490.85,303.15 C500.32,312.30 500.32,327.90 490.85,337.05 L489.95,337.05 C497.02,327.90 497.02,312.30 489.95,303.15 Z" fill="#000"/>
<text transform="translate(263.86,666.48) scale(1.0610,1)" font-family="'Liberation Serif', serif" font-size="31.58" font-style="italic" fill="#ff0000">p</text><path d="M263.60,657.20 C264.20,654.80 265.50,652.50 267.80,651.90" fill="none" stroke="#ff0000" stroke-width="1.3" stroke-linecap="round"/><text transform="translate(280.79,651.90) scale(1.2161,1)" font-family="'Liberation Serif', serif" font-size="23.37" fill="#ff0000">&#931;</text><text transform="translate(299.30,655.90) scale(0.8971,1)" font-family="'Liberation Serif', serif" font-size="18.33" font-style="italic" fill="#ff0000">A</text><text transform="translate(310.27,660.94) scale(0.9863,1)" font-family="'Liberation Serif', serif" font-size="16.75" fill="#ff0000">0</text><path d="M334.25,641.05 C324.92,650.20 324.92,665.80 334.25,674.95 L335.15,674.95 C328.22,665.80 328.22,650.20 335.15,641.05 Z" fill="#ff0000"/><path d="M338.30,657.00 C339.20,654.20 341.20,651.70 343.20,651.70 C344.90,651.70 345.50,653.00 345.00,654.80 L342.30,662.60 C341.70,664.60 342.10,666.20 343.60,666.20 C345.20,666.20 346.50,664.20 347.10,662.00" fill="none" stroke="#ff0000" stroke-width="1.5" stroke-linecap="round"/><path d="M344.90,655.00 L342.40,662.40" fill="none" stroke="#ff0000" stroke-width="2.5" stroke-linecap="round"/><circle cx="345.30" cy="645.50" r="1.95" fill="#ff0000"/><text transform="translate(348.72,671.75) scale(0.9182,1)" font-family="'Liberation Serif', serif" font-size="25.62" font-style="italic" fill="#ff0000">&#8467;</text><path d="M363.45,640.95 C372.92,650.10 372.92,665.70 363.45,674.85 L362.55,674.85 C369.62,665.70 369.62,650.10 362.55,640.95 Z" fill="#ff0000"/>
<text transform="translate(406.26,665.98) scale(1.0610,1)" font-family="'Liberation Serif', serif" font-size="31.58" font-style="italic" fill="#000">p</text><path d="M406.00,656.70 C406.60,654.30 407.90,652.00 410.20,651.40" fill="none" stroke="#000" stroke-width="1.3" stroke-linecap="round"/><text transform="translate(423.19,651.40) scale(1.2161,1)" font-family="'Liberation Serif', serif" font-size="23.37" fill="#000">&#931;</text><text transform="translate(441.70,655.40) scale(0.8971,1)" font-family="'Liberation Serif', serif" font-size="18.33" font-style="italic" fill="#000">A</text><text transform="translate(452.67,660.44) scale(0.9863,1)" font-family="'Liberation Serif', serif" font-size="16.75" fill="#000">0</text><path d="M476.65,640.55 C467.32,649.70 467.32,665.30 476.65,674.45 L477.55,674.45 C470.62,665.30 470.62,649.70 477.55,640.55 Z" fill="#000"/><path d="M480.70,656.50 C481.60,653.70 483.60,651.20 485.60,651.20 C487.30,651.20 487.90,652.50 487.40,654.30 L484.70,662.10 C484.10,664.10 484.50,665.70 486.00,665.70 C487.60,665.70 488.90,663.70 489.50,661.50" fill="none" stroke="#000" stroke-width="1.5" stroke-linecap="round"/><path d="M487.30,654.50 L484.80,661.90" fill="none" stroke="#000" stroke-width="2.5" stroke-linecap="round"/><circle cx="487.70" cy="645.00" r="1.95" fill="#000"/><text transform="translate(491.12,671.25) scale(0.9182,1)" font-family="'Liberation Serif', serif" font-size="25.62" font-style="italic" fill="#000">&#8467;</text><path d="M505.85,640.45 C515.32,649.60 515.32,665.20 505.85,674.35 L504.95,674.35 C512.02,665.20 512.02,649.60 504.95,640.45 Z" fill="#000"/>
</svg>
</body></html>
